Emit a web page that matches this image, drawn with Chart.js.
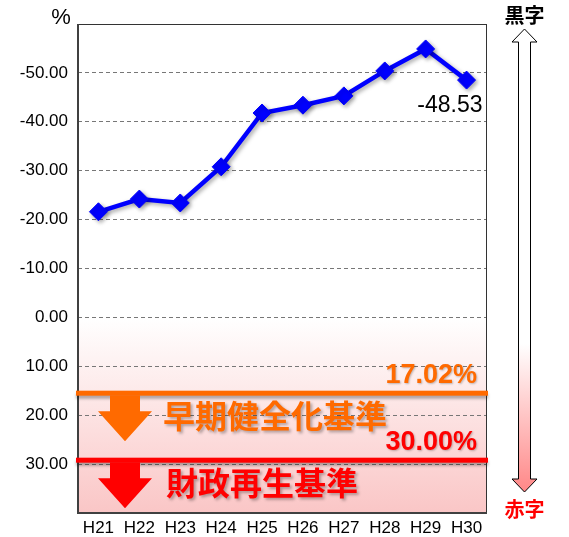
<!DOCTYPE html>
<html>
<head>
<meta charset="utf-8">
<script src="https://cdn.jsdelivr.net/npm/chart.js@4/dist/chart.umd.min.js"></script>
<style>
html,body{margin:0;padding:0;background:#fff;}
#c{display:block;}
</style>
</head>
<body>
<canvas id="c" width="569" height="537"></canvas>
<script>
const categories = ['H21','H22','H23','H24','H25','H26','H27','H28','H29','H30'];
const ratioValues = [-21.6, -24.2, -23.4, -30.8, -41.8, -43.4, -45.3, -50.4, -54.9, -48.53];
const yRange = [-60, 40];
const thresholdValues = [15.5, 29.2];
const thresholdPercentLabels = ['17.02%', '30.00%'];
const thresholdNames = ['早期健全化基準', '財政再生基準'];
const unitLabel = '%';
const topLabel = '黒字';
const bottomLabel = '赤字';
const lastValueLabel = '-48.53';

const thresholdColors = ['#ff6a00', '#ff0000'];
const FONT = '"Liberation Sans", Arial, sans-serif';
const CJK = '"Noto Sans CJK JP", sans-serif';

const decor = {
  id: 'decor',
  beforeDraw(chart) {
    const {ctx, chartArea: a, scales: {y}} = chart;
    const y0 = y.getPixelForValue(0);
    const g = ctx.createLinearGradient(0, y0, 0, a.bottom);
    g.addColorStop(0, 'rgba(255,255,255,1)');
    g.addColorStop(1, 'rgb(250,198,198)');
    ctx.save();
    ctx.fillStyle = g;
    ctx.fillRect(a.left, y0, a.right - a.left, a.bottom - y0);
    ctx.restore();
  },
  beforeDatasetsDraw(chart) {
    const ctx = chart.ctx;
    ctx.save();
    ctx.shadowColor = 'rgba(0,0,0,0.35)';
    ctx.shadowBlur = 4;
    ctx.shadowOffsetX = 2;
    ctx.shadowOffsetY = 2;
  },
  afterDatasetsDraw(chart) {
    const {ctx, chartArea: a, scales: {y}} = chart;
    ctx.restore();
    // frame
    ctx.save();
    ctx.strokeStyle = '#333';
    ctx.lineWidth = 1;
    ctx.beginPath();
    ctx.moveTo(a.left, a.top + 0.5); ctx.lineTo(a.right, a.top + 0.5);
    ctx.moveTo(a.right - 0.5, a.top); ctx.lineTo(a.right - 0.5, a.bottom);
    ctx.stroke();
    ctx.strokeStyle = '#404040';
    ctx.lineWidth = 2;
    ctx.beginPath();
    ctx.moveTo(a.left, a.top); ctx.lineTo(a.left, a.bottom + 1);
    ctx.moveTo(a.left - 1, a.bottom); ctx.lineTo(a.right, a.bottom);
    ctx.stroke();
    ctx.restore();

    // data label on last point
    const meta = chart.getDatasetMeta(0);
    const last = meta.data[meta.data.length - 1];
    ctx.save();
    ctx.font = '23px ' + FONT;
    ctx.fillStyle = '#000';
    ctx.textAlign = 'right';
    ctx.textBaseline = 'middle';
    ctx.fillText(lastValueLabel, last.x + 16, last.y + 26);
    ctx.restore();

    // threshold lines, arrows, labels
    const ax = a.left + 47;
    thresholdValues.forEach((v, i) => {
      const ly = y.getPixelForValue(v);
      const col = thresholdColors[i];
      ctx.save();
      ctx.shadowColor = 'rgba(0,0,0,0.3)';
      ctx.shadowBlur = 3;
      ctx.shadowOffsetX = 0;
      ctx.shadowOffsetY = 3;
      ctx.fillStyle = col;
      ctx.fillRect(a.left - 2, ly - 2.5, a.right - a.left + 3, 5);
      ctx.restore();
      // arrow
      ctx.save();
      ctx.fillStyle = col;
      ctx.beginPath();
      ctx.moveTo(ax - 15, ly + 2);
      ctx.lineTo(ax + 15, ly + 2);
      ctx.lineTo(ax + 15, ly + 18);
      ctx.lineTo(ax + 27, ly + 18);
      ctx.lineTo(ax, ly + 48);
      ctx.lineTo(ax - 27, ly + 18);
      ctx.lineTo(ax - 15, ly + 18);
      ctx.closePath();
      ctx.fill();
      ctx.restore();
      // name
      ctx.save();
      ctx.shadowColor = 'rgba(0,0,0,0.3)';
      ctx.shadowBlur = 3;
      ctx.shadowOffsetX = 2;
      ctx.shadowOffsetY = 2;
      ctx.fillStyle = col;
      ctx.font = 'bold 32px ' + CJK;
      ctx.textAlign = 'left';
      ctx.textBaseline = 'middle';
      ctx.fillText(thresholdNames[i], a.left + 85 + i * 3, ly + 23);
      ctx.restore();
      // percent
      ctx.save();
      ctx.shadowColor = 'rgba(0,0,0,0.25)';
      ctx.shadowBlur = 2;
      ctx.shadowOffsetX = 1;
      ctx.shadowOffsetY = 1;
      ctx.fillStyle = col;
      ctx.font = 'bold 27px ' + FONT;
      ctx.textAlign = 'right';
      ctx.textBaseline = 'middle';
      ctx.fillText(thresholdPercentLabels[i], a.right - 10, ly - 18);
      ctx.restore();
    });
  },
  afterDraw(chart) {
    const {ctx} = chart;
    // unit label
    ctx.save();
    ctx.font = '22px ' + FONT;
    ctx.fillStyle = '#000';
    ctx.textAlign = 'center';
    ctx.textBaseline = 'middle';
    ctx.fillText(unitLabel, 61, 18);
    ctx.restore();

    // right double arrow
    const cx = 524.5, top = 29, hb1 = 42, hb2 = 479, bot = 492;
    const g = ctx.createLinearGradient(0, top, 0, bot);
    g.addColorStop(0, '#ffffff');
    g.addColorStop(0.68, '#ffffff');
    g.addColorStop(1, 'rgb(255,135,135)');
    ctx.save();
    ctx.beginPath();
    ctx.moveTo(cx, top);
    ctx.lineTo(cx + 12.5, hb1);
    ctx.lineTo(cx + 6, hb1);
    ctx.lineTo(cx + 6, hb2);
    ctx.lineTo(cx + 12.5, hb2);
    ctx.lineTo(cx, bot);
    ctx.lineTo(cx - 12.5, hb2);
    ctx.lineTo(cx - 6, hb2);
    ctx.lineTo(cx - 6, hb1);
    ctx.lineTo(cx - 12.5, hb1);
    ctx.closePath();
    ctx.fillStyle = g;
    ctx.fill();
    ctx.strokeStyle = '#000';
    ctx.lineWidth = 1;
    ctx.stroke();
    ctx.font = 'bold 20px ' + CJK;
    ctx.textAlign = 'center';
    ctx.textBaseline = 'middle';
    ctx.fillStyle = '#000';
    ctx.fillText(topLabel, cx, 15);
    ctx.fillStyle = '#ff0000';
    ctx.fillText(bottomLabel, cx, 509);
    ctx.restore();
  }
};

new Chart(document.getElementById('c'), {
  type: 'line',
  data: {
    labels: categories,
    datasets: [{
      data: ratioValues,
      borderColor: '#0000ff',
      backgroundColor: '#0000ff',
      borderWidth: 4.5,
      pointStyle: 'rectRot',
      pointRadius: 9,
      pointHoverRadius: 9,
      pointBorderWidth: 1,
      pointBorderColor: '#0000ff',
      pointBackgroundColor: '#0000ff',
      tension: 0,
      fill: false
    }]
  },
  options: {
    responsive: false,
    devicePixelRatio: 1,
    animation: false,
    events: [],
    layout: {padding: {top: 24, right: 82, left: 0, bottom: 0}},
    plugins: {legend: {display: false}, tooltip: {enabled: false}},
    scales: {
      x: {
        offset: true,
        grid: {display: false, drawTicks: false},
        border: {display: false},
        ticks: {color: '#000', font: {family: FONT, size: 17}, padding: 5, maxRotation: 0, autoSkip: false},
        afterFit(s) { s.height = 24; }
      },
      y: {
        min: yRange[0],
        max: yRange[1],
        reverse: true,
        grid: {color: '#777777', lineWidth: 1, drawTicks: false},
        border: {display: false, dash: [4, 3]},
        ticks: {
          stepSize: 10,
          color: '#000',
          font: {family: FONT, size: 17},
          padding: 10,
          callback: (v) => (v === yRange[0] || v === yRange[1]) ? null : Number(v).toFixed(2)
        },
        afterFit(s) { s.width = 78; }
      }
    }
  },
  plugins: [decor]
});
</script>
</body>
</html>
